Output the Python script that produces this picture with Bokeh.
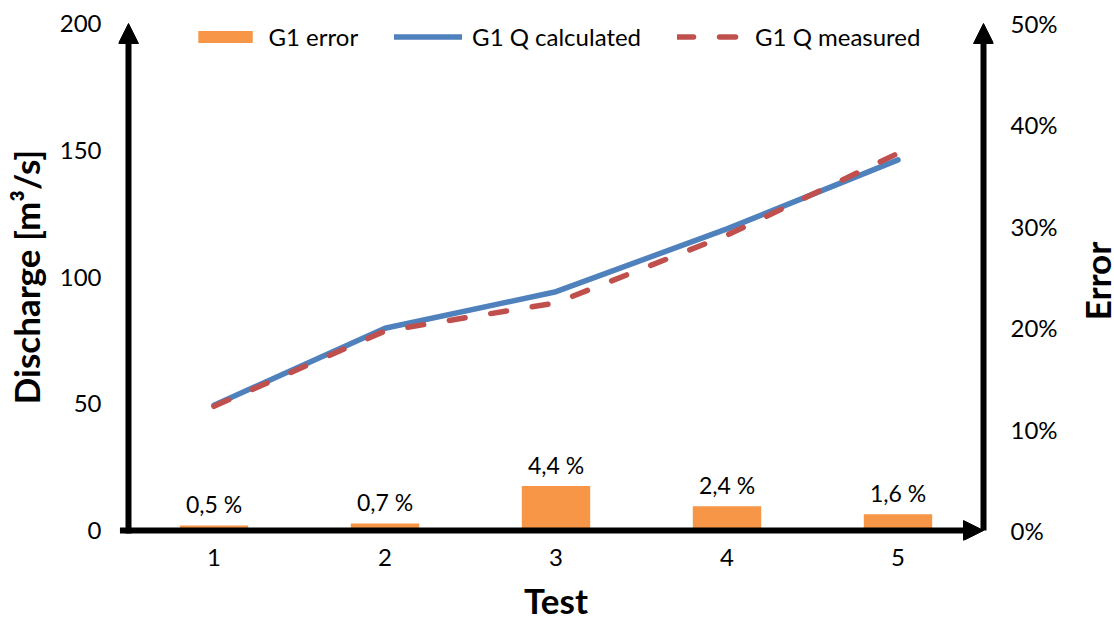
from bokeh.plotting import figure
from bokeh.models import (Range1d, LinearAxis, FixedTicker, NumeralTickFormatter,
                          Arrow, NormalHead, Legend, LegendItem, ColumnDataSource, Div)
from bokeh.layouts import row
from bokeh.core.properties import value
from bokeh.embed import file_html
from bokeh.resources import INLINE

# ---- data ----
tests = ["1", "2", "3", "4", "5"]
q_calculated = [49.4, 79.8, 94.2, 119.0, 146.2]
q_measured = [49.0, 78.7, 89.8, 116.5, 148.8]
error = [0.005, 0.007, 0.044, 0.024, 0.016]
left_ticks = [0, 50, 100, 150, 200]
right_ticks = [0.0, 0.1, 0.2, 0.3, 0.4, 0.5]
right_title = "Error"

FONT = "Lato"
ORANGE = "#F79646"
BLUE = "#4F81BD"
RED = "#C0504D"

xpos = [i + 0.5 for i in range(len(tests))]
labels = [f"{v*100:.1f} %".replace(".", ",") for v in error]

src = ColumnDataSource(dict(x=xpos, qc=q_calculated, qm=q_measured, err=error, lab=labels))

# frame is padded by PAD px on every side so that the axis arrows are not clipped
W, H = 1114, 623
TITLE_W = 44          # width of the strip holding the right-hand axis title
PW = W - TITLE_W      # width of the figure itself
PAD = 10
FR_L, FR_R, FR_T, FR_B = 128, 983, 23, 530
n = len(tests)
padx = PAD * n / (FR_R - FR_L)
pady = PAD * 200 / (FR_B - FR_T)
pade = PAD * 0.5 / (FR_B - FR_T)

p = figure(width=PW, height=H, output_backend="svg", toolbar_location=None,
           x_range=Range1d(-padx, n + padx), y_range=Range1d(-pady, 200 + pady),
           min_border_left=FR_L - PAD, min_border_right=PW - FR_R - PAD,
           min_border_top=FR_T - PAD, min_border_bottom=H - FR_B - PAD)
p.extra_y_ranges = {"err": Range1d(-pade, 0.5 + pade)}
p.outline_line_color = None
p.xgrid.visible = False
p.ygrid.visible = False
p.background_fill_color = "white"
p.border_fill_color = "white"

def style_axis(ax):
    ax.axis_line_color = None
    ax.major_tick_line_color = None
    ax.minor_tick_line_color = None
    ax.major_tick_in = 0
    ax.major_tick_out = 0
    ax.major_label_text_font = FONT
    ax.major_label_text_font_size = "24px"
    ax.major_label_text_color = "black"
    ax.axis_label_text_font = FONT
    ax.axis_label_text_font_size = "35px"
    ax.axis_label_text_font_style = "bold"
    ax.axis_label_text_color = "black"

# bottom axis
xa = p.xaxis[0]
style_axis(xa)
xa.ticker = FixedTicker(ticks=xpos)
xa.major_label_overrides = {x: t for x, t in zip(xpos, tests)}
xa.major_label_standoff = 8
xa.axis_label = "Test"
xa.axis_label_standoff = 10

# left axis
ya = p.yaxis[0]
style_axis(ya)
ya.ticker = FixedTicker(ticks=left_ticks)
ya.major_label_standoff = 17
ya.axis_label = "Discharge [m³/s]"
ya.axis_label_standoff = 10

# right axis (tick labels)
ra = LinearAxis(y_range_name="err", ticker=FixedTicker(ticks=right_ticks),
                formatter=NumeralTickFormatter(format="0%"))
style_axis(ra)
ra.major_label_standoff = 17
p.add_layout(ra, "right")

# bars
bars = p.vbar(x="x", top="err", width=0.4, source=src, y_range_name="err",
              fill_color=ORANGE, line_color=None)
p.text(x="x", y="err", text="lab", source=src, y_range_name="err",
       text_align="center", text_baseline="bottom", y_offset=-7,
       text_font=value(FONT), text_font_size="23px", text_color="black")

# lines
lc = p.line(x="x", y="qc", source=src, line_color=BLUE, line_width=5.5,
            line_cap="round", line_join="round")
lm = p.line(x="x", y="qm", source=src, line_color=RED, line_width=5.5,
            line_cap="round", line_join="round", line_dash="16 26")

# axis arrows
def arrow(x0, y0, x1, y1):
    a = Arrow(x_start=x0, y_start=y0, x_end=x1, y_end=y1, line_width=6, line_color="black",
              end=NormalHead(size=20, fill_color="black", line_color="black", line_width=1))
    p.add_layout(a)

arrow(0, -1.2, 0, 200)
arrow(-0.05, 0, n, 0)
arrow(n, 0, n, 200)

legend = Legend(items=[LegendItem(label="G1 error", renderers=[bars]),
                       LegendItem(label="G1 Q calculated", renderers=[lc]),
                       LegendItem(label="G1 Q measured", renderers=[lm])],
                location="top_center", orientation="horizontal")
legend.background_fill_alpha = 0
legend.border_line_color = None
legend.label_text_font = FONT
legend.label_text_font_size = "24px"
legend.label_text_color = "black"
legend.glyph_width = 68
legend.glyph_height = 15
legend.label_standoff = 10
legend.spacing = 36
legend.padding = 0
legend.margin = 9
p.add_layout(legend, "center")

# right-hand axis title, reading bottom to top, centred on the plot frame
title_div = Div(
    text=(f'<div style="position:absolute; left:{1092 - PW}px; top:{(FR_T + FR_B) // 2}px; '
          'transform: translate(-50%,-50%) rotate(-90deg); '
          f'font-family:{FONT}; font-weight:bold; font-size:35px; line-height:1; '
          f'white-space:nowrap; color:black;">{right_title}</div>'),
    width=TITLE_W, height=H, styles={"overflow": "visible", "background-color": "white"})

layout = row(p, title_div, spacing=0)
open("out.html", "w").write(file_html(layout, INLINE))
